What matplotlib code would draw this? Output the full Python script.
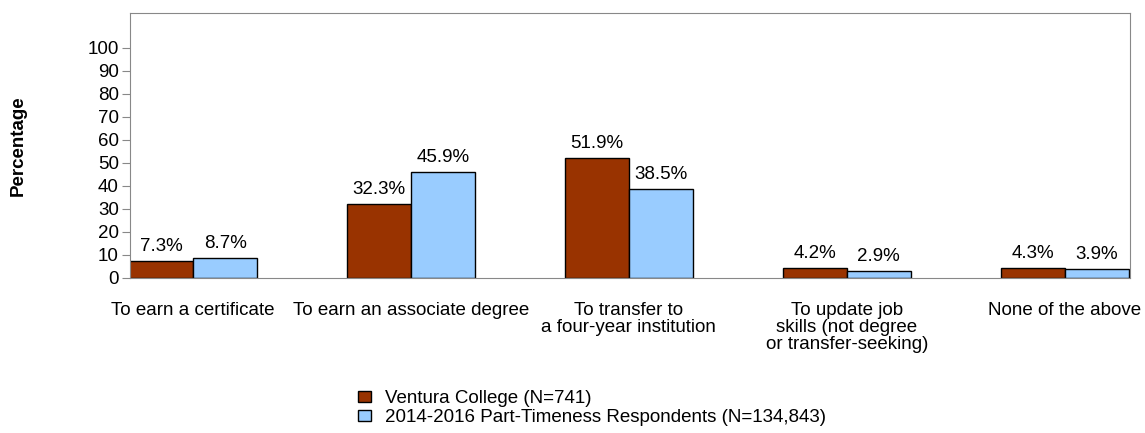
import numpy as np
import matplotlib.pyplot as plt

plt.rcParams['font.family'] = ['Liberation Sans', 'DejaVu Sans']

categories = ['To earn a certificate', 'To earn an associate degree',
              'To transfer to\na four-year institution',
              'To update job\nskills (not degree\nor transfer-seeking)',
              'None of the above']
college = [7.3, 32.3, 51.9, 4.2, 4.3]
statewide = [8.7, 45.9, 38.5, 2.9, 3.9]
series_names = ['Ventura College (N=741)',
                '2014-2016 Part-Timeness Respondents (N=134,843)']

fs = 13.5
fig = plt.figure(figsize=(11.45, 4.33), dpi=100)
ax = fig.add_axes([130 / 1145, 1 - 278 / 433, 1000 / 1145, 265 / 433])

x = np.arange(len(categories))
w = 0.294
b1 = ax.bar(x - w / 2, college, w, color='#993300', edgecolor='black', linewidth=1,
            label=series_names[0])
b2 = ax.bar(x + w / 2, statewide, w, color='#99ccff', edgecolor='black', linewidth=1,
            label=series_names[1])
for bars in (b1, b2):
    for r in bars:
        ax.text(r.get_x() + r.get_width() / 2, r.get_height() + 4.3,
                f'{r.get_height():.1f}%', ha='center', va='baseline', fontsize=fs)

ax.set_xlim(-0.29, 4.30)
ax.set_ylim(0, 115)
ax.set_yticks(range(0, 101, 10))
ax.set_xticks(x)
ax.set_xticklabels(categories, fontsize=fs, linespacing=1.0)
ax.tick_params(axis='x', length=0, pad=17)
ax.tick_params(axis='y', length=6, color='#888888', labelsize=fs, pad=2)
for s in ax.spines.values():
    s.set_color('#888888')
ax.set_ylabel('Percentage', fontweight='bold', fontsize=fs)
ax.yaxis.set_label_coords(-0.103, 0.5)

fig.legend(loc='upper left', bbox_to_anchor=(358 / 1145, 1 - 390 / 433), frameon=False,
           fontsize=fs, handlelength=0.7, handleheight=0.5, handletextpad=0.75,
           labelspacing=0.12, borderpad=0, borderaxespad=0)

fig.savefig('out.png', dpi=100)
